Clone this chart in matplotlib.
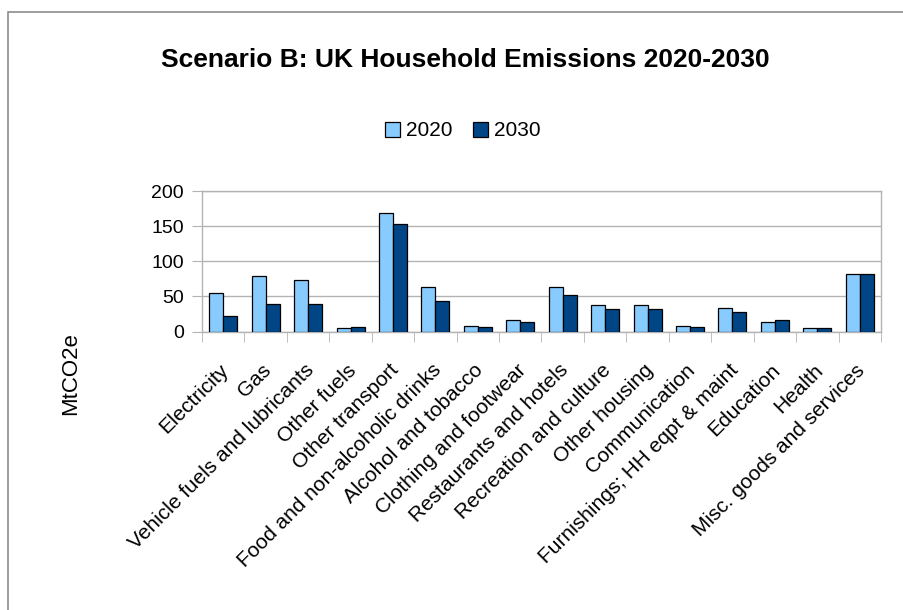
import numpy as np
import matplotlib
matplotlib.use("Agg")
import matplotlib.pyplot as plt
from matplotlib.patches import Rectangle
from matplotlib.transforms import ScaledTranslation

plt.rcParams['font.family'] = ['Liberation Sans', 'DejaVu Sans']

categories = [
    "Electricity", "Gas", "Vehicle fuels and lubricants", "Other fuels",
    "Other transport", "Food and non-alcoholic drinks", "Alcohol and tobacco",
    "Clothing and footwear", "Restaurants and hotels", "Recreation and culture",
    "Other housing", "Communication", "Furnishings; HH eqpt & maint",
    "Education", "Health", "Misc. goods and services",
]
values_2020 = [55, 79, 73, 5.5, 168, 64, 8.5, 16, 63, 38, 38, 7.5, 34, 14, 5.5, 81.5]
values_2030 = [22, 39, 38.5, 6, 153.5, 43, 7, 13, 52, 31.5, 31.5, 6.5, 28, 17, 5.5, 82]
series_labels = ["2020", "2030"]
yticks = [0, 50, 100, 150, 200]

W, H = 904, 610
fig = plt.figure(figsize=(W / 100, H / 100), dpi=100)

# outer frame of the chart
fig.add_artist(Rectangle((8 / W, -0.05), 1.2, 1 - 12 / H + 0.05, transform=fig.transFigure,
                         fill=False, edgecolor="#8c8c8c", linewidth=1.2))

left, right, top, bottom = 202, 881, 191, 331.5
ax = fig.add_axes([left / W, 1 - bottom / H, (right - left) / W, (bottom - top) / H])

x = np.arange(len(categories))
bw = 0.33
light, dark = "#87CBFF", "#004586"
b1 = ax.bar(x - bw / 2, values_2020, bw, color=light, edgecolor="black", linewidth=0.9,
            label=series_labels[0], zorder=3)
b2 = ax.bar(x + bw / 2, values_2030, bw, color=dark, edgecolor="black", linewidth=0.9,
            label=series_labels[1], zorder=3)

ax.set_xlim(-0.5, len(categories) - 0.5)
ax.set_ylim(0, 200)
ax.set_yticks(yticks)
ax.set_yticklabels([str(v) for v in yticks], fontsize=14)
ax.yaxis.grid(True, color="#b3b3b3", linewidth=1, zorder=0)
ax.tick_params(axis="y", length=7, color="#b3b3b3", pad=6)

ax.set_xticks(x)
ax.set_xticklabels(categories, rotation=45, ha="right", rotation_mode="anchor",
                   fontsize=15)
ax.set_xticks(np.arange(len(categories) + 1) - 0.5, minor=True)
ax.tick_params(axis="x", which="major", length=0, pad=21)
ax.tick_params(axis="x", which="minor", length=7, color="#b3b3b3")
shift = ScaledTranslation(-3 / 72, 0, fig.dpi_scale_trans)
for lbl in ax.get_xticklabels():
    lbl.set_transform(lbl.get_transform() + shift)

for s in ax.spines.values():
    s.set_color("#b3b3b3")
    s.set_linewidth(1)

fig.text(465 / W, 1 - 60 / H, "Scenario B: UK Household Emissions 2020-2030",
         ha="center", va="center", fontsize=19, fontweight="bold")
fig.text(71 / W, 1 - 374 / H, "MtCO2e", rotation=90, ha="center", va="center",
         fontsize=16)

fig.legend(handles=[b1, b2], labels=series_labels, loc="center",
           bbox_to_anchor=(463 / W, 1 - 131 / H), ncol=2, frameon=False,
           fontsize=15, handlelength=0.7, handleheight=0.7, handletextpad=0.3,
           columnspacing=1.0)

fig.savefig("out.png", dpi=100)
